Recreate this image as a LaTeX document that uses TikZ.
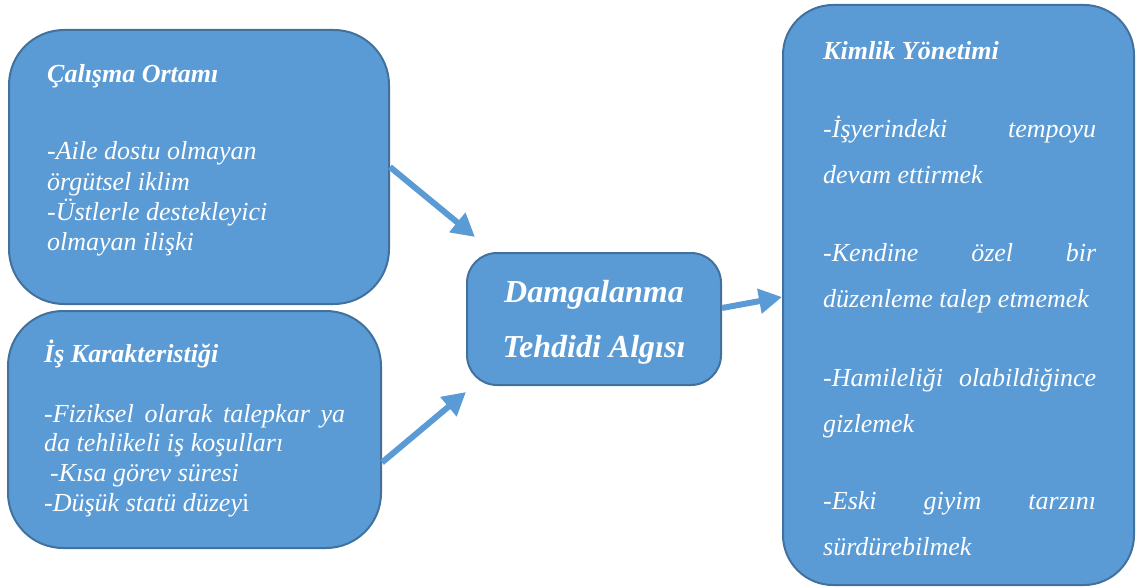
\documentclass[tikz,border=0pt]{standalone}
\usepackage{fontspec}
\setmainfont{Liberation Serif}
\usetikzlibrary{arrows.meta}
\definecolor{boxfill}{HTML}{5B9BD5}
\definecolor{boxline}{HTML}{41719C}
\newcommand{\fullline}[2]{\makebox[#1][s]{#2}}
\begin{document}
\begin{tikzpicture}[x=1pt,y=-1pt,
  box/.style={draw=boxline,fill=boxfill,line width=2pt,inner sep=0pt},
  txt/.style={anchor=base west,inner sep=0pt,text=white,font=\fontsize{26}{30}\selectfont\itshape},
  head/.style={txt,font=\fontsize{26}{30}\selectfont\bfseries\itshape},
  link/.style={draw=boxfill,line width=6pt,-{Triangle[length=23pt,width=24pt]}}]
\useasboundingbox (0,0) rectangle (1137,588);

%Kutular

\node[box,rounded corners=55pt,minimum width=380pt,minimum height=274pt] (calisma) at (199,167) {};
\node[box,rounded corners=55pt,minimum width=373pt,minimum height=237pt] (isk) at (194.5,429.5) {};
\node[box,rounded corners=30pt,minimum width=254pt,minimum height=132pt] (damga) at (594,319) {};
\node[box,rounded corners=50pt,minimum width=351pt,minimum height=580pt] (kimlik) at (958.5,295) {};

%Calisma Ortami

\node[head] (calisma-t) at (47,83) {Çalışma Ortamı};
\foreach \y/\t [count=\i] in {160/{-Aile dostu olmayan},190/{örgütsel iklim},
  220/{-Üstlerle destekleyici},250/{olmayan ilişki}}
  \node[txt] (calisma-\i) at (47,\y) {\t};

%Is Karakteristigi

\node[head] (isk-t) at (44,362) {İş Karakteristiği};
\node[txt] (isk-1) at (44,422) {\fullline{301pt}{-Fiziksel olarak talepkar ya}};
\node[txt] (isk-2) at (44,451) {da tehlikeli iş koşulları};
\node[txt] (isk-3) at (50,481) {-Kısa görev süresi};
\node[txt] (isk-4) at (44,511) {-Düşük statü düzey\textup{i}};

%Damgalanma

\node[head,anchor=base,font=\fontsize{32}{36}\selectfont\bfseries\itshape] (damga-1) at (594,302) {Damgalanma};
\node[head,anchor=base,font=\fontsize{32}{36}\selectfont\bfseries\itshape] (damga-2) at (594,357) {Tehdidi Algısı};

%Kimlik Yonetimi

\node[head] (kimlik-t) at (823,60) {Kimlik Yönetimi};
\foreach \y/\t [count=\i] in {138/{\fullline{273pt}{-İşyerindeki tempoyu}},184/{devam ettirmek},
  261/{\fullline{273pt}{-Kendine özel bir}},307/{düzenleme talep etmemek},
  386/{\fullline{273pt}{-Hamileliği olabildiğince}},432/{gizlemek},
  509/{\fullline{273pt}{-Eski giyim tarzını}},555/{sürdürebilmek}}
  \node[txt] (kimlik-\i) at (823,\y) {\t};

%Oklar

\coordinate (a1) at (475,237);
\coordinate (a2) at (466,392);
\draw[link] (calisma.east) -- (a1);
\draw[link] ([yshift=-33pt]isk.east) -- (a2);
\draw[link] ([yshift=11pt]damga.east) -- ([yshift=-2pt]kimlik.west);

\end{tikzpicture}
\end{document}
